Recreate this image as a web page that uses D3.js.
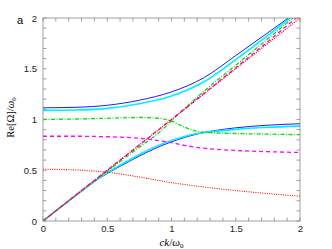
<!DOCTYPE html>
<html>
<head>
<meta charset="utf-8">
<script src="https://cdn.jsdelivr.net/npm/d3@7"></script>
<style>
  html, body { margin: 0; padding: 0; background: #fff; }
  #chart { width: 332px; height: 249px; }
  .tick text { font-family: "Liberation Sans", Arial, sans-serif; font-size: 9.5px; fill: #222; }
  .tick line { stroke: #888; }
</style>
</head>
<body>
<div id="chart"></div>
<script>
// ── data ──
const xTicks = [0, 0.5, 1, 1.5, 2];
const yTicks = [0, 0.5, 1, 1.5, 2];

// upper solid branches
const blueUpK  = [0, 0.25, 0.5, 0.75, 1.0, 1.25, 1.5, 1.75, 1.91];
const blueUpW  = [1.115, 1.12, 1.14, 1.19, 1.272, 1.41, 1.63, 1.855, 2.0];
const cyanUpK  = [0, 0.25, 0.5, 0.75, 1.0, 1.25, 1.5, 1.75, 1.922];
const cyanUpW  = [1.09, 1.093, 1.11, 1.155, 1.232, 1.37, 1.59, 1.828, 2.0];

// lower solid branches
const blueLoK  = [0, 0.25, 0.45, 0.6, 0.7, 0.8, 0.9, 1.0, 1.1, 1.2, 1.3, 1.5, 1.75, 2.0];
const blueLoW  = [0, 0.245, 0.43, 0.54, 0.607, 0.672, 0.73, 0.78, 0.822, 0.857, 0.883, 0.918, 0.944, 0.958];
const cyanLoK  = [0, 0.25, 0.45, 0.6, 0.7, 0.8, 0.9, 1.0, 1.1, 1.2, 1.3, 1.5, 1.75, 2.0];
const cyanLoW  = [0, 0.247, 0.435, 0.55, 0.62, 0.688, 0.745, 0.792, 0.833, 0.862, 0.878, 0.903, 0.923, 0.935];

// green dash-dot
const greenAK  = [0, 0.25, 0.5, 0.75, 0.9, 1.0, 1.1, 1.2, 1.3, 1.5, 1.75, 2.0];
const greenAW  = [1.0, 1.005, 1.012, 1.02, 1.012, 0.985, 0.925, 0.885, 0.87, 0.862, 0.856, 0.85];
const greenBK  = [0, 0.25, 0.5, 0.75, 0.9, 0.95, 1.0, 1.05, 1.1, 1.25, 1.5, 1.75, 1.945];
const greenBW  = [0, 0.248, 0.49, 0.728, 0.87, 0.925, 0.985, 1.048, 1.107, 1.275, 1.535, 1.795, 2.0];

// magenta dashed
const magUpK   = [0, 0.5, 1.0, 1.5, 1.75, 1.97];
const magUpW   = [0, 0.5, 1.0, 1.51, 1.768, 2.0];
const magLoK   = [0, 0.25, 0.5, 0.75, 0.9, 1.0, 1.1, 1.25, 1.5, 1.75, 2.0];
const magLoW   = [0.835, 0.835, 0.83, 0.815, 0.792, 0.772, 0.745, 0.717, 0.695, 0.683, 0.675];

// red dotted
const redUpK   = [0, 2];
const redUpW   = [0, 2];
const redLoK   = [0, 0.25, 0.5, 0.75, 1.0, 1.25, 1.5, 1.75, 2.0];
const redLoW   = [0.51, 0.503, 0.48, 0.433, 0.378, 0.335, 0.3, 0.27, 0.245];

const zip = (ks, ws) => ks.map((k, i) => ({ k, w: ws[i] }));

const curves = [
  { pts: zip(blueUpK, blueUpW),   color: '#1a1aff', width: 1.0, dash: null },
  { pts: zip(blueLoK, blueLoW),   color: '#1a1aff', width: 1.0, dash: null },
  { pts: zip(cyanUpK, cyanUpW),   color: '#00f0ff', width: 1.6, dash: null },
  { pts: zip(cyanLoK, cyanLoW),   color: '#00f0ff', width: 1.6, dash: null },
  { pts: zip(greenAK, greenAW),   color: '#00e000', width: 1.3, dash: '4,1.5,1,1.5' },
  { pts: zip(greenBK, greenBW),   color: '#00e000', width: 1.3, dash: '4,1.5,1,1.5' },
  { pts: zip(magUpK, magUpW),     color: '#ff00ff', width: 1.3, dash: '4,3' },
  { pts: zip(magLoK, magLoW),     color: '#ff00ff', width: 1.3, dash: '4,3' },
  { pts: zip(redUpK, redUpW),     color: '#ff0000', width: 1.3, dash: '1,1.3' },
  { pts: zip(redLoK, redLoW),     color: '#ff0000', width: 1.1, dash: '1,1.3' }
];

const W = 332, H = 249;
const m = { top: 18, right: 32, bottom: 28, left: 43 };
const w = W - m.left - m.right;
const h = H - m.top - m.bottom;

const svg = d3.select('#chart').append('svg')
  .attr('width', W).attr('height', H);
const g = svg.append('g').attr('transform', `translate(${m.left},${m.top})`);

const x = d3.scaleLinear().domain([0, 2]).range([0, w]);
const y = d3.scaleLinear().domain([0, 2]).range([h, 0]);

svg.append('defs').append('clipPath').attr('id', 'clip')
  .append('rect').attr('width', w).attr('height', h);

// minor ticks every 0.1 on all four sides
const minor = d3.range(0, 2.0001, 0.1);
const tl = 3.5;
const axG = g.append('g').attr('stroke', '#888').attr('stroke-width', 0.8);
minor.forEach(v => {
  axG.append('line').attr('x1', x(v)).attr('x2', x(v)).attr('y1', h).attr('y2', h - tl);
  axG.append('line').attr('x1', x(v)).attr('x2', x(v)).attr('y1', 0).attr('y2', tl);
  axG.append('line').attr('y1', y(v)).attr('y2', y(v)).attr('x1', 0).attr('x2', tl);
  axG.append('line').attr('y1', y(v)).attr('y2', y(v)).attr('x1', w).attr('x2', w - tl);
});

// labelled axes
g.append('g')
  .attr('transform', `translate(0,${h})`)
  .call(d3.axisBottom(x).tickValues(xTicks).tickSize(0).tickPadding(4).tickFormat(d3.format('')))
  .call(a => a.select('.domain').remove());

g.append('g')
  .call(d3.axisLeft(y).tickValues(yTicks).tickSize(0).tickPadding(6).tickFormat(d3.format('')))
  .call(a => a.select('.domain').remove());

// curves
const line = d3.line()
  .x(d => x(d.k))
  .y(d => y(d.w))
  .curve(d3.curveMonotoneX);

const cg = g.append('g').attr('clip-path', 'url(#clip)');
curves.forEach(c => {
  cg.append('path')
    .datum(c.pts)
    .attr('d', line)
    .attr('fill', 'none')
    .attr('stroke', c.color)
    .attr('stroke-width', c.width)
    .attr('stroke-dasharray', c.dash);
});

// frame
g.append('rect')
  .attr('width', w).attr('height', h)
  .attr('fill', 'none').attr('stroke', '#888').attr('stroke-width', 0.8);

// panel letter
svg.append('text')
  .attr('x', 17).attr('y', 24)
  .attr('font-family', '"Liberation Sans", Arial, sans-serif')
  .attr('font-size', 11)
  .text('a');

// axis titles
const xt = svg.append('text')
  .attr('x', m.left + x(1)).attr('y', H - 3)
  .attr('text-anchor', 'middle')
  .attr('font-family', '"Liberation Serif", "Times New Roman", serif')
  .attr('font-size', 11);
xt.append('tspan').attr('font-style', 'italic').text('ck');
xt.append('tspan').text('/');
xt.append('tspan').attr('font-style', 'italic').text('ω');
xt.append('tspan').attr('font-size', 7).attr('dy', 2).text('0');

const yt = svg.append('text')
  .attr('transform', `translate(14,${m.top + y(1) - 2}) rotate(-90)`)
  .attr('text-anchor', 'middle')
  .attr('font-family', '"Liberation Serif", "Times New Roman", serif')
  .attr('font-size', 10.5);
yt.append('tspan').text('Re[Ω]/');
yt.append('tspan').attr('font-style', 'italic').text('ω');
yt.append('tspan').attr('font-size', 7).attr('dy', 2).text('0');
</script>
</body>
</html>
